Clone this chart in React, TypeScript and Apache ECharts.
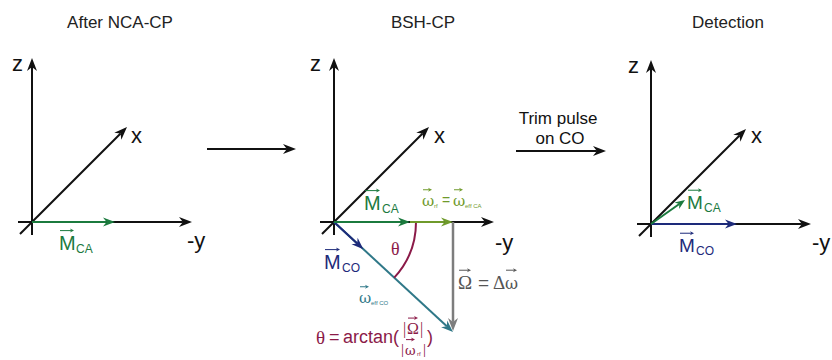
import React, { useEffect, useRef } from "react";
import * as echarts from "echarts";

// ---- content (texts and vector components) ----
const panelTitles = ["After NCA-CP", "BSH-CP", "Detection"];
const axisNames = ["z", "x", "-y"];
const trimLabel = ["Trim pulse", "on CO"];
// vector components in each panel's frame (right = -y, down = -z), arbitrary units
const nca_MCA = [83, 0];
const bsh_MCA = [76, 0];
const bsh_omegaRF = [43, 0];
const bsh_Omega = [0, 109];
const bsh_effCO = [119, 110];
const det_MCA = [34, -24];
const det_MCO = [86, 0];

const SANS = "Liberation Sans, Arial, sans-serif";
const SERIF = "Liberation Serif, Times New Roman, serif";
const GREEK = "DejaVu Serif, serif";
const C = {
  black: "#111111",
  green: "#1b7a3e",
  olive: "#6f9a2b",
  blue: "#1d2a7a",
  teal: "#2f7888",
  crimson: "#8b1a48",
  grey: "#7d7d7d",
  greyText: "#555555",
  title: "#222222",
};

function arrow(x1: number, y1: number, x2: number, y2: number, color: string, lw = 2, hl = 12, hw = 5): any[] {
  const L = Math.hypot(x2 - x1, y2 - y1);
  const ux = (x2 - x1) / L, uy = (y2 - y1) / L;
  const nx = -uy, ny = ux;
  const bx = x2 - ux * hl, by = y2 - uy * hl;
  const notchX = x2 - ux * hl * 0.7, notchY = y2 - uy * hl * 0.7;
  return [
    { type: "line", shape: { x1, y1, x2: notchX, y2: notchY }, style: { stroke: color, lineWidth: lw }, silent: true },
    {
      type: "polygon",
      shape: { points: [[x2, y2], [bx + nx * hw, by + ny * hw], [notchX, notchY], [bx - nx * hw, by - ny * hw]] },
      style: { fill: color, stroke: null },
      silent: true,
    },
  ];
}

function txt(x: number, y: number, text: string, color: string, size: number, family = SANS, align = "left", vAlign = "middle"): any {
  return {
    type: "text",
    x, y,
    style: { text, fill: color, fontSize: size, fontFamily: family, align, verticalAlign: vAlign },
    silent: true,
  };
}

function vecLabel(x: number, cy: number, sym: string, sub: string, color: string, size: number, subSize: number, symW: number, family = SANS, arrowDy = 0.62): any[] {
  const ay = cy - size * arrowDy;
  return [
    txt(x, cy, sym, color, size, family),
    ...arrow(x + 1, ay, x + symW - 1, ay, color, 1, 4, 2),
    ...(sub ? [txt(x + symW + 1, cy + size * 0.3, sub, color, subSize, SANS)] : []),
  ];
}

function axes(ox: number, oy: number): any[] {
  return [
    ...arrow(ox, oy + 13, ox, oy - 164, C.black, 2, 13, 5),
    ...arrow(ox - 14, oy, ox + 160, oy, C.black, 2, 13, 5),
    ...arrow(ox - 12, oy + 12, ox + 95, oy - 95, C.black, 2, 13, 5),
  ];
}

function buildGraphics(): any[] {
  const els: any[] = [];
  // titles
  els.push(txt(120, 22, panelTitles[0], C.title, 17, SANS, "center"));
  els.push(txt(423, 22, panelTitles[1], C.title, 17, SANS, "center"));
  els.push(txt(728, 22, panelTitles[2], C.title, 17, SANS, "center"));

  // ---- panel 1 ----
  const o1 = [32, 222];
  els.push(...axes(o1[0], o1[1]));
  els.push(txt(12, 63, axisNames[0], C.black, 22));
  els.push(txt(131, 135, axisNames[1], C.black, 22));
  els.push(txt(187, 240, axisNames[2], C.black, 22));
  els.push(...arrow(o1[0], o1[1], o1[0] + nca_MCA[0], o1[1] + nca_MCA[1], C.green, 2, 12, 4.5));
  els.push(...vecLabel(59, 243, "M", "CA", C.green, 20, 12, 16));

  // transition arrows
  els.push(...arrow(207, 149, 296, 149, C.black, 2, 13, 5));
  els.push(txt(558, 118, trimLabel[0], C.black, 17, SANS, "center"));
  els.push(txt(560, 138, trimLabel[1], C.black, 17, SANS, "center"));
  els.push(...arrow(516, 151, 606, 151, C.black, 2, 13, 5));

  // ---- panel 2 ----
  const o2 = [334, 222];
  els.push(...axes(o2[0], o2[1]));
  els.push(txt(310, 63, axisNames[0], C.black, 22));
  els.push(txt(434, 135, axisNames[1], C.black, 22));
  els.push(txt(495, 242, axisNames[2], C.black, 22));
  const ax = o2[0] + bsh_MCA[0];
  const bx = ax + bsh_omegaRF[0];
  const ex = o2[0] + bsh_effCO[0], ey = o2[1] + bsh_effCO[1];
  els.push(...arrow(o2[0], o2[1], ex, ey, C.teal, 2, 12, 4.5));
  const L = Math.hypot(bsh_effCO[0], bsh_effCO[1]);
  const mx = o2[0] + (bsh_effCO[0] / L) * 40, my = o2[1] + (bsh_effCO[1] / L) * 40;
  els.push(...arrow(o2[0], o2[1], mx, my, C.blue, 2, 12, 4.5));
  els.push(...arrow(bx, o2[1], bx + bsh_Omega[0], o2[1] + bsh_Omega[1], C.grey, 2.5, 13, 5));
  els.push({
    type: "arc",
    shape: { cx: o2[0], cy: o2[1], r: 82, startAngle: 0, endAngle: Math.atan2(bsh_effCO[1], bsh_effCO[0]), clockwise: true },
    style: { stroke: C.crimson, lineWidth: 2, fill: null },
    silent: true,
  });
  els.push(...arrow(ax, o2[1], bx, o2[1], C.olive, 2, 12, 4.5));
  els.push(...arrow(o2[0], o2[1], ax, o2[1], C.green, 2, 12, 4.5));
  // labels
  els.push(...vecLabel(364, 203, "M", "CA", C.green, 20, 12, 17));
  els.push(...vecLabel(422, 201, "ω", "rf", C.olive, 15, 6, 11, GREEK, 0.75));
  els.push(txt(442, 200, "=", C.olive, 14, SANS));
  els.push(...vecLabel(453, 201, "ω", "eff CA", C.olive, 15, 6, 11, GREEK, 0.75));
  els.push(txt(391, 249, "θ", C.crimson, 18, SERIF));
  els.push(...vecLabel(324, 262, "M", "CO", C.blue, 20, 12, 17));
  els.push(...vecLabel(359, 298, "ω", "eff CO", C.teal, 15, 6, 11, GREEK, 0.75));
  els.push(...vecLabel(458, 282, "Ω", "", C.greyText, 19, 0, 14, SERIF));
  els.push(txt(478, 282, "=", C.greyText, 19, SANS));
  els.push(txt(493, 282, "Δ", C.greyText, 19, SERIF));
  els.push(...vecLabel(505, 283, "ω", "", C.greyText, 16, 0, 13, GREEK, 0.8));
  // theta = arctan(|Omega| / |omega_rf|)
  els.push(txt(316, 337, "θ", C.crimson, 19, SERIF));
  els.push(txt(329, 337, "=", C.crimson, 18, SANS));
  els.push(txt(343, 337, "arctan(", C.crimson, 18, SANS));
  els.push(txt(403, 328, "|", C.crimson, 16, SERIF));
  els.push(...vecLabel(407, 328, "Ω", "", C.crimson, 16, 0, 12, SERIF));
  els.push(txt(420, 328, "|", C.crimson, 16, SERIF));
  els.push(txt(401, 349, "|", C.crimson, 15, SERIF));
  els.push(...vecLabel(405, 350, "ω", "rf", C.crimson, 13, 6, 11, GREEK, 0.8));
  els.push(txt(423, 349, "|", C.crimson, 15, SERIF));
  els.push(txt(427, 337, ")", C.crimson, 18, SANS));

  // ---- panel 3 ----
  const o3 = [651, 224];
  els.push(...axes(o3[0], o3[1]));
  els.push(txt(628, 65, axisNames[0], C.black, 22));
  els.push(txt(751, 135, axisNames[1], C.black, 22));
  els.push(txt(812, 242, axisNames[2], C.black, 22));
  els.push(...arrow(o3[0], o3[1], o3[0] + det_MCO[0], o3[1] + det_MCO[1], C.blue, 2, 12, 4.5));
  els.push(...arrow(o3[0], o3[1], o3[0] + det_MCA[0], o3[1] + det_MCA[1], C.green, 2, 10, 4));
  els.push(...vecLabel(687, 202, "M", "CA", C.green, 19, 12, 16));
  els.push(...vecLabel(679, 245, "M", "CO", C.blue, 19, 12, 16));
  return els;
}

export default function App() {
  const ref = useRef<HTMLDivElement>(null);
  useEffect(() => {
    if (!ref.current) return;
    const chart = echarts.init(ref.current, null, { renderer: "svg" });
    chart.setOption({
      animation: false,
      backgroundColor: "#ffffff",
      graphic: { elements: buildGraphics() },
    });
    return () => chart.dispose();
  }, []);
  return <div ref={ref} style={{ width: 832, height: 360, position: "absolute", left: 0, top: 0 }} />;
}
